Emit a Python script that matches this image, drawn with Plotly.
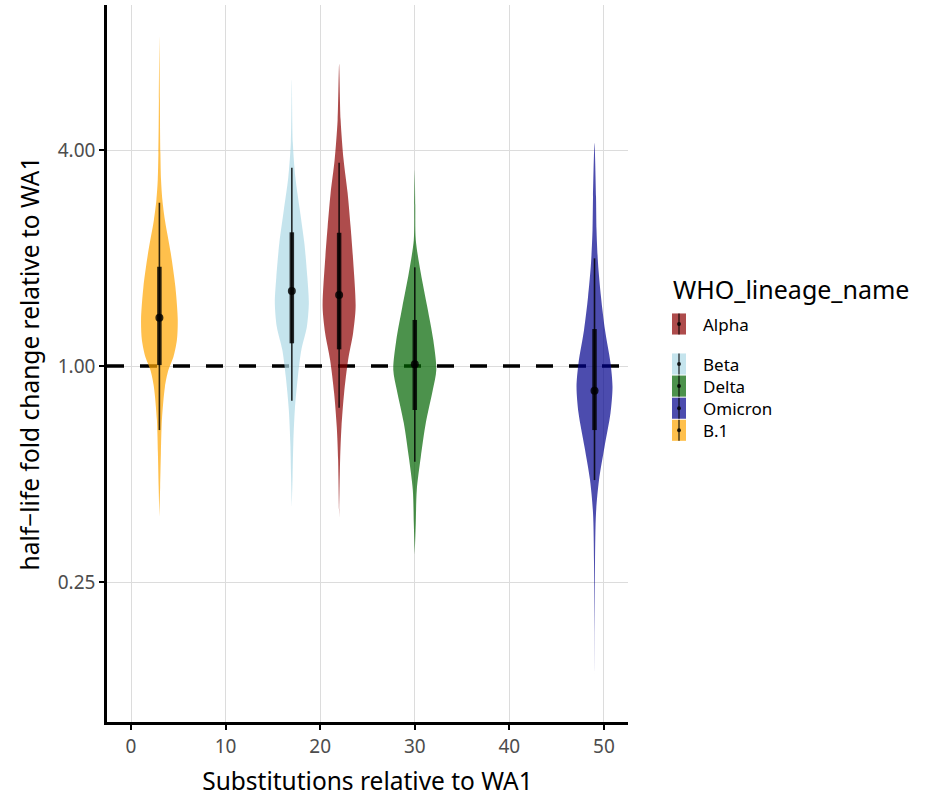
import plotly.graph_objects as go

# ---------------- data ----------------
lineages = ["B.1", "Beta", "Alpha", "Delta", "Omicron"]
substitutions = [3, 17, 22, 30, 49]
fill_colors = ["rgba(255,165,0,0.7)", "rgba(173,216,230,0.7)", "rgba(139,0,0,0.7)",
               "rgba(0,100,0,0.7)", "rgba(0,0,139,0.7)"]

median_fold = [1.363, 1.618, 1.577, 1.011, 0.853]
q66_low = [1.006, 1.157, 1.113, 0.754, 0.663]
q66_high = [1.891, 2.359, 2.352, 1.344, 1.268]
q95_low = [0.663, 0.800, 0.765, 0.541, 0.481]
q95_high = [2.852, 3.570, 3.686, 1.884, 1.996]

# violin profiles: log2 fold-change levels and relative density (violin width)
b1_log2_fold = [3.046, 2.463, 1.972, 1.722, 1.537, 1.352, 1.046, 0.731, 0.426, 0.241, 0.083, -0.037, -0.194, -0.5, -0.806, -1.12, -1.398]
b1_density = [0, 1, 2, 3.3, 6, 11, 22.7, 32, 36.7, 35, 28, 18, 11, 5, 3, 1.5, 0]

beta_log2_fold = [2.648, 2.065, 1.75, 1.444, 1.139, 0.824, 0.583, 0.361, 0.148, -0.102, -0.407, -0.713, -1.028, -1.306]
beta_density = [0, 2, 7, 16, 25, 31, 34, 30, 19, 12, 6, 3, 1.5, 0]

alpha_log2_fold = [2.796, 2.278, 1.907, 1.602, 1.287, 0.981, 0.546, 0.306, 0.056, -0.25, -0.565, -0.87, -1.398]
alpha_density = [0, 3, 9, 17, 23, 28, 33, 28, 18, 10, 4.7, 2, 0]

delta_log2_fold = [1.815, 1.49, 1.167, 0.861, 0.546, 0.241, -0.037, -0.222, -0.528, -0.843, -1.148, -1.454, -1.75]
delta_density = [0, 1, 2, 12, 25, 37, 43, 36, 22, 12, 4, 2, 0]

omicron_log2_fold = [2.065, 1.565, 1.259, 0.954, 0.639, 0.333, 0.028, -0.194, -0.435, -0.75, -1.056, -1.361, -1.824, -2.861]
omicron_density = [0, 3, 4, 7, 13, 21, 32, 36, 32, 20, 9, 3, 1, 0]

profiles = [
    (b1_log2_fold, b1_density),
    (beta_log2_fold, beta_density),
    (alpha_log2_fold, alpha_density),
    (delta_log2_fold, delta_density),
    (omicron_log2_fold, omicron_density),
]

y_tickvals = [0.25, 1, 4]
y_ticktext = ["0.25", "1.00", "4.00"]
x_tickvals = [0, 10, 20, 30, 40, 50]

legend_title = "WHO_lineage_name"
legend_group1 = ["Alpha"]
legend_group2 = ["Beta", "Delta", "Omicron", "B.1"]

# ---------------- figure ----------------
W, H = 932, 801
ML, MR, MT, MB = 107, 304, 5, 79
PW, PH = W - ML - MR, H - MT - MB
WIDTH_SCALE = 1 / (2 * 9.46)   # density units -> half-width in x units
FONT = "Noto Sans"
IC = "rgba(0,0,0,0.82)"
LEG_FONT = 17
LINE_STEP = LEG_FONT * 1.3


def px(xpix):
    return (xpix - ML) / PW


def py(ypix):
    return (H - MB - ypix) / PH


fig = go.Figure()

# reference line at 1
fig.add_trace(go.Scatter(
    x=[-2.54, 52.54], y=[1, 1], mode="lines",
    line=dict(color="black", width=3.5, dash="17px,16px"),
    showlegend=False, hoverinfo="skip"))

# violins
for name, xc, col, (lv, dv) in zip(lineages, substitutions, fill_colors, profiles):
    ys = [2 ** v for v in lv]
    xr = [xc + d * WIDTH_SCALE for d in dv]
    xl = [xc - d * WIDTH_SCALE for d in dv]
    fig.add_trace(go.Scatter(
        x=xr + xl[::-1], y=ys + ys[::-1], mode="lines", fill="toself", fillcolor=col,
        line=dict(width=0, color=col, shape="spline", smoothing=0.8),
        name=name, showlegend=False, hoverinfo="skip"))

# point intervals
for i, xc in enumerate(substitutions):
    fig.add_trace(go.Scatter(x=[xc, xc], y=[q95_low[i], q95_high[i]], mode="lines",
                             line=dict(color=IC, width=1.6), showlegend=False, hoverinfo="skip"))
    fig.add_trace(go.Scatter(x=[xc, xc], y=[q66_low[i], q66_high[i]], mode="lines",
                             line=dict(color=IC, width=4.5), showlegend=False, hoverinfo="skip"))
    fig.add_trace(go.Scatter(x=[xc], y=[median_fold[i]], mode="markers",
                             marker=dict(color=IC, size=8), showlegend=False, hoverinfo="skip"))

# legend (drawn manually to match ggplot key layout)
shapes = []
annotations = [dict(text=legend_title, x=px(671), y=py(289), xref="paper", yref="paper",
                    xanchor="left", yanchor="middle", showarrow=False,
                    font=dict(size=25, family=FONT, color="black"))]


def add_group(names, top_center):
    centers = [top_center + k * LINE_STEP for k in range(len(names))]
    for name, yc in zip(names, centers):
        col = fill_colors[lineages.index(name)]
        half = LINE_STEP / 2 - 0.5
        shapes.append(dict(type="rect", xref="paper", yref="paper",
                           x0=px(672), x1=px(686), y0=py(yc + half), y1=py(yc - half),
                           fillcolor=col, line=dict(width=0)))
        shapes.append(dict(type="line", xref="paper", yref="paper",
                           x0=px(679), x1=px(679), y0=py(yc + half), y1=py(yc - half),
                           line=dict(color=IC, width=1.3)))
        shapes.append(dict(type="circle", xref="paper", yref="paper",
                           x0=px(677), x1=px(681), y0=py(yc + 2), y1=py(yc - 2),
                           fillcolor=IC, line=dict(width=0)))
    mid = (centers[0] + centers[-1]) / 2
    annotations.append(dict(text="<br>".join(names), x=px(701), y=py(mid),
                            xref="paper", yref="paper", align="left",
                            xanchor="left", yanchor="middle", showarrow=False,
                            font=dict(size=LEG_FONT, family=FONT, color="black")))


add_group(legend_group1, 324)
add_group(legend_group2, 364)

fig.update_layout(
    width=W, height=H,
    margin=dict(l=ML, r=MR, t=MT, b=MB),
    plot_bgcolor="white", paper_bgcolor="white",
    font=dict(family=FONT, color="black"),
    showlegend=False,
    shapes=shapes, annotations=annotations,
)

fig.update_xaxes(
    range=[-2.54, 52.54], tickvals=x_tickvals,
    showgrid=True, gridcolor="#DCDCDC", gridwidth=1, zeroline=False,
    showline=True, linecolor="black", linewidth=2.5,
    ticks="outside", ticklen=5, tickwidth=2, tickcolor="black",
    tickfont=dict(size=19, color="#4D4D4D", family=FONT),
    title=dict(text="Substitutions relative to WA1", font=dict(size=24.5, family=FONT), standoff=16),
)
fig.update_yaxes(
    type="log", range=[-0.9922, 1.0063],
    tickvals=y_tickvals, ticktext=y_ticktext,
    showgrid=True, gridcolor="#DCDCDC", gridwidth=1, zeroline=False,
    showline=True, linecolor="black", linewidth=2.5,
    ticks="outside", ticklen=5, tickwidth=2, tickcolor="black",
    tickfont=dict(size=19, color="#4D4D4D", family=FONT),
    title=dict(text="half\u2212life fold change relative to WA1", font=dict(size=24.5, family=FONT), standoff=12),
)

fig.write_html("out.html", config={"displayModeBar": False},
               post_script="document.body.style.margin='0';")
